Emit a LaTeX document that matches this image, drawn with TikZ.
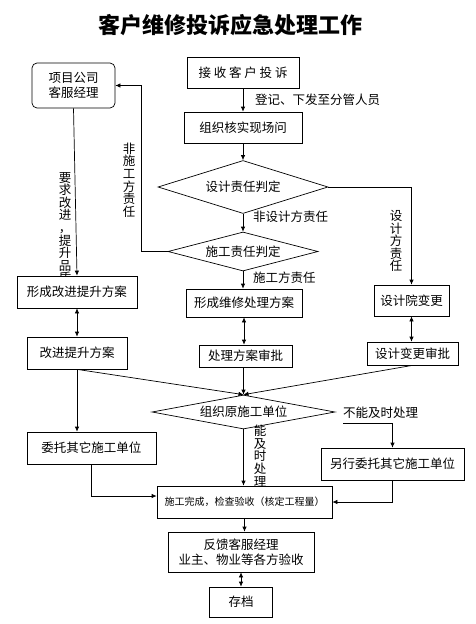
\documentclass[tikz,border=0pt]{standalone}
\usepackage{fontspec}
\setmainfont{Noto Sans CJK SC}
\usetikzlibrary{shapes.geometric, arrows.meta, calc}

\begin{document}
\begin{tikzpicture}[x=1pt, y=-1pt, font=\fontsize{12.5}{15}\selectfont,
  box/.style={rectangle, draw=black, line width=0.7pt, fill=white, align=center, inner sep=1pt},
  dia/.style={diamond, draw=black, line width=0.7pt, fill=white, inner sep=0pt},
  arrow/.style={-{Latex[length=5pt, width=4.5pt]}, line width=0.7pt},
  both/.style={{Latex[length=5pt, width=4.5pt]}-{Latex[length=5pt, width=4.5pt]}, line width=0.7pt},
  note/.style={anchor=west, inner sep=0pt},
  vnote/.style={align=center, inner sep=0pt, text width=12.5pt, font=\fontsize{12.5}{12.6}\selectfont}
]
  \useasboundingbox (0,0) rectangle (476,624);

  \node[font=\bfseries\fontsize{22}{24}\selectfont] (title) at (230,25) {客户维修投诉应急处理工作};

  % left column
  \node[vnote, anchor=north] (lbreq) at (65,172) {要\\求\\改\\进\\，\\提\\升\\品\\质};
  \node[box, rounded corners=5pt, minimum width=83pt, minimum height=45pt] (pm) at (73.5,85.5) {项目公司\\客服经理};
  \node[box, minimum width=120pt, minimum height=32pt] (imp) at (77,292) {形成改进提升方案};
  \node[box, minimum width=100pt, minimum height=32pt] (imp2) at (77,353) {改进提升方案};
  \node[box, minimum width=129pt, minimum height=32pt] (other) at (91.5,448) {委托其它施工单位};

  % middle column
  \node[box, minimum width=112pt, minimum height=31pt] (recv) at (243,72.5) {接 收 客 户 投 诉};
  \node[box, minimum width=118pt, minimum height=31pt] (org) at (243,127.5) {组织核实现场问};
  \node[dia, aspect=3.2, minimum width=170pt, minimum height=53pt] (d1) at (243,187) {设计责任判定};
  \node[dia, aspect=3.85, minimum width=150pt, minimum height=39pt] (d2) at (243,251.5) {施工责任判定};
  \node[box, minimum width=116pt, minimum height=28pt] (fix) at (244,303) {形成维修处理方案};
  \node[box, minimum width=93pt, minimum height=22pt] (appr) at (245.5,356) {处理方案审批};
  \node[dia, aspect=5.4, minimum width=183pt, minimum height=34pt] (d3) at (243.5,412) {组织原施工单位};
  \node[box, minimum width=175pt, minimum height=32pt, font=\fontsize{10}{12}\selectfont] (done) at (244.5,502) {施工完成，检查验收（核定工程量）};
  \node[box, minimum width=146pt, minimum height=40pt] (fb) at (241,552) {反馈客服经理\\业主、物业等各方验收};
  \node[box, minimum width=63pt, minimum height=30pt] (arch) at (241,602) {存档};

  % right column
  \node[box, minimum width=75pt, minimum height=31pt] (dsn) at (411.5,300.5) {设计院变更};
  \node[box, minimum width=91pt, minimum height=23pt] (dappr) at (412.5,353.5) {设计变更审批};
  \node[box, minimum width=143pt, minimum height=32pt] (other2) at (392.5,464) {另行委托其它施工单位};

  % labels
  \node[note] (lbreg) at (255,100) {登记、下发至分管人员};
  \node[note] (lbnd) at (253,217) {非设计方责任};
  \node[note] (lbc) at (253,278) {施工方责任};
  \node[note] (lbno) at (343,413) {不能及时处理};
  \node[vnote] (lbd) at (396,241) {设\\计\\方\\责\\任};
  \node[vnote] (lbnc) at (129,180) {非\\施\\工\\方\\责\\任};
  \node[vnote] (lbok) at (260,456) {能\\及\\时\\处\\理};

  \coordinate (kno) at (343,423);

  % connectors
  \draw[arrow] (recv) -- (org);
  \draw[arrow] (org) -- (d1);
  \draw[arrow] (d1.east) -| (dsn.north);
  \draw[arrow] (d1.south) -- (d2.north);
  \draw[arrow] (d2.west) -- ++(-26,0) |- (pm.east);
  \draw[arrow] (d2.south) -- (d2.south |- fix.north);
  \draw[arrow] (pm.south) -- (imp.north);
  \draw[both] (imp.south) -- (imp2.north);
  \draw[both] (fix.south) -- (fix.south |- appr.north);
  \draw[both] (dsn.south) -- (dsn.south |- dappr.north);
  \draw[arrow] (imp2.south) -- (d3.north);
  \draw[arrow] (appr.south -| d3.north) -- (d3.north);
  \draw[arrow] (dappr.south) -- (d3.north);
  \draw[arrow] (imp2.south) -- (imp2.south |- other.north);
  \draw[arrow] (other.south) |- ([yshift=6pt]done.west);
  \draw[arrow] (kno) -| (other2.north);
  \draw[arrow] (other2.south) |- (done.east);
  \draw[arrow] (d3.south) -- (d3.south |- done.north);
  \draw[arrow] (done.south) -- (done.south |- fb.north);
  \draw[both] (fb.south) -- (fb.south |- arch.north);
\end{tikzpicture}
\end{document}
